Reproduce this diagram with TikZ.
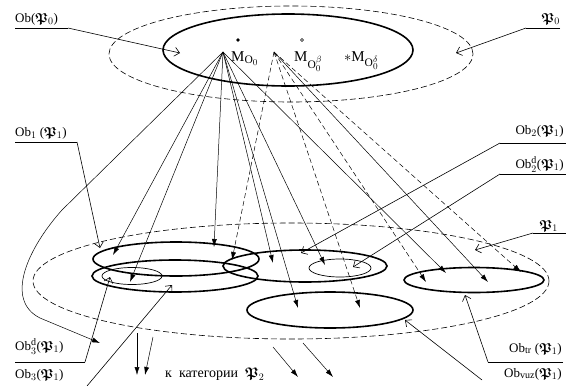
\documentclass[tikz,border=0pt]{standalone}
\usepackage{amsmath,amssymb,bm}
\usepackage{fontspec}
\setmainfont{Liberation Serif}
\usetikzlibrary{arrows.meta}
\DeclareMathSizes{13}{13}{10}{8}
\DeclareMathSizes{15}{15}{11.5}{9}
% category symbol with index
\newcommand{\Pc}[1]{\ensuremath{\bm{\mathfrak{P}}_{#1}}}
\begin{document}
\begin{tikzpicture}[x=1pt,y=-1pt,
  thickel/.style={line width=1.6pt},
  thinel/.style={line width=0.7pt},
  dashel/.style={line width=0.6pt,dash pattern=on 6pt off 3pt},
  arr/.style={line width=0.5pt,-{Latex[length=8pt,width=5pt]}},
  darr/.style={arr,dash pattern=on 5pt off 3pt},
  callout/.style={line width=0.6pt,-{Straight Barb[length=5pt,width=9pt]}},
  txt/.style={inner sep=0pt,font=\fontsize{13}{15}\selectfont},
  mtxt/.style={inner sep=0pt,font=\fontsize{15}{17}\selectfont}]
\useasboundingbox (0,0) rectangle (566,386);

% ---------- upper level: category P0 ----------
\draw[dashel] (291,54) ellipse [x radius=182pt, y radius=48pt];
\draw[thickel] (288,50) ellipse [x radius=125pt, y radius=36pt];
\fill (238,40) circle (1.8pt);
\draw[line width=0.4pt] (302,40) circle (1.5pt);
\node[mtxt,anchor=base west] (m0)  at (231,61) {M$_{\mathrm{O}_0}$};
\node[mtxt,anchor=base west] (mb)  at (294,61) {M$_{\mathrm{O}^{\beta}_{0}}$};
\node[mtxt,anchor=base west] (md)  at (344,61) {$*$M$_{\mathrm{O}^{\delta}_{0}}$};
\coordinate (A) at (223,52);
\coordinate (B) at (274,52);

% ---------- lower level: category P1 ----------
\draw[dashel] (291,281) ellipse [x radius=258pt, y radius=58pt];
\draw[thickel] (176,259) ellipse [x radius=83pt, y radius=17pt];
\draw[thickel] (175,276) ellipse [x radius=83pt, y radius=16pt];
\draw[thinel]  (132,276) ellipse [x radius=30pt, y radius=8.5pt];
\draw[thickel] (305,266) ellipse [x radius=82pt, y radius=16pt];
\draw[thinel]  (340,268) ellipse [x radius=31pt, y radius=9pt];
\draw[thickel] (474,280) ellipse [x radius=70pt, y radius=12.5pt];
\draw[thickel] (330,310) ellipse [x radius=83pt, y radius=18pt];

% ---------- morphisms from M_O0 ----------
\foreach \t in {(113,255),(130,282),(214,247),(273,263),(298,308),(325,265),(446,273)}
  \draw[arr] (A) -- \t;
\draw[arr] (B) -- (488,282);
\foreach \t in {(232,260),(360,308),(426,282),(521,272)}
  \draw[darr] (B) -- \t;

% long morphism leaving for category P2
\draw[arr] (A) -- (62,210) .. controls (28,248) and (4,300) .. (40,318) -- (100,343);

% ---------- labels with callouts ----------
\node[txt,anchor=base west] (lob0) at (15,22) {Ob(\Pc{0})};
\coordinate (u0a) at (15,28); \coordinate (u0b) at (68,28);
\draw[line width=0.6pt] (u0a) -- (u0b);
\draw[callout] (u0b) -- (180,53);

\node[txt,anchor=base east] (lp0) at (560,22) {\Pc{0}};
\coordinate (v0a) at (560,28); \coordinate (v0b) at (526,28);
\draw[line width=0.6pt] (v0a) -- (v0b);
\draw[callout] (v0b) -- (456,53);

\node[txt,anchor=base west] (lob1) at (15,136) {Ob$_1$ (\Pc{1})};
\coordinate (u1a) at (15,142); \coordinate (u1b) at (77,142);
\draw[line width=0.6pt] (u1a) -- (u1b);
\draw[callout] (u1b) -- (100,248);

\node[txt,anchor=base east] (lob2) at (564,134) {Ob$_2$(\Pc{1})};
\coordinate (u2a) at (566,143); \coordinate (u2b) at (500,143);
\draw[line width=0.6pt] (u2a) -- (u2b);
\draw[callout] (u2b) -- (301,253);

\node[txt,anchor=base east] (lob2d) at (564,168) {Ob$^{\mathrm{d}}_{2}$(\Pc{1})};
\coordinate (u2da) at (566,174); \coordinate (u2db) at (500,174);
\draw[line width=0.6pt] (u2da) -- (u2db);
\draw[callout] (u2db) -- (353,267);

\node[txt,anchor=base east] (lp1) at (558,229) {\Pc{1}};
\coordinate (v1a) at (566,233); \coordinate (v1b) at (533,233);
\draw[line width=0.6pt] (v1a) -- (v1b);
\draw[callout] (v1b) -- (475,250);

\node[txt,anchor=base west] (lob3d) at (15,350) {Ob$^{\mathrm{d}}_{3}$(\Pc{1})};
\node[txt,anchor=base west] (lob3)  at (15,378) {Ob$_3$(\Pc{1})};
\coordinate (u3a) at (15,362); \coordinate (u3b) at (85,362);
\draw[line width=0.6pt] (u3a) -- (u3b);
\draw[callout] (u3b) -- (110,277);
\coordinate (u3c) at (87,386);
\draw[callout] (u3c) -- (172,285);

\node[txt,anchor=base east] (lobtr)  at (562,352) {Ob$_{\mathrm{tr}}$ (\Pc{1})};
\node[txt,anchor=base east] (lobvuz) at (562,377) {Ob$_{\mathrm{vuz}}$(\Pc{1})};
\coordinate (utra) at (563,362); \coordinate (utrb) at (488,362);
\draw[line width=0.6pt] (utra) -- (utrb);
\draw[callout] (utrb) -- (465,295);
\coordinate (uvz) at (482,380);
\draw[callout] (uvz) -- (405,320);

% ---------- functors to category P2 ----------
\node[txt,anchor=base west,font=\fontsize{14}{16}\selectfont] (lp2) at (165,377) {к\enspace категории\enspace \Pc{2}};
\coordinate (f1s) at (137,333); \coordinate (f1e) at (137,375);
\coordinate (f2s) at (153,337); \coordinate (f2e) at (145,375);
\coordinate (f3s) at (273,347); \coordinate (f3e) at (298,377);
\coordinate (f4s) at (303,343); \coordinate (f4e) at (333,377);
\draw[arr] (f1s) -- (f1e);
\draw[arr] (f2s) -- (f2e);
\draw[arr] (f3s) -- (f3e);
\draw[arr] (f4s) -- (f4e);
\end{tikzpicture}
\end{document}
